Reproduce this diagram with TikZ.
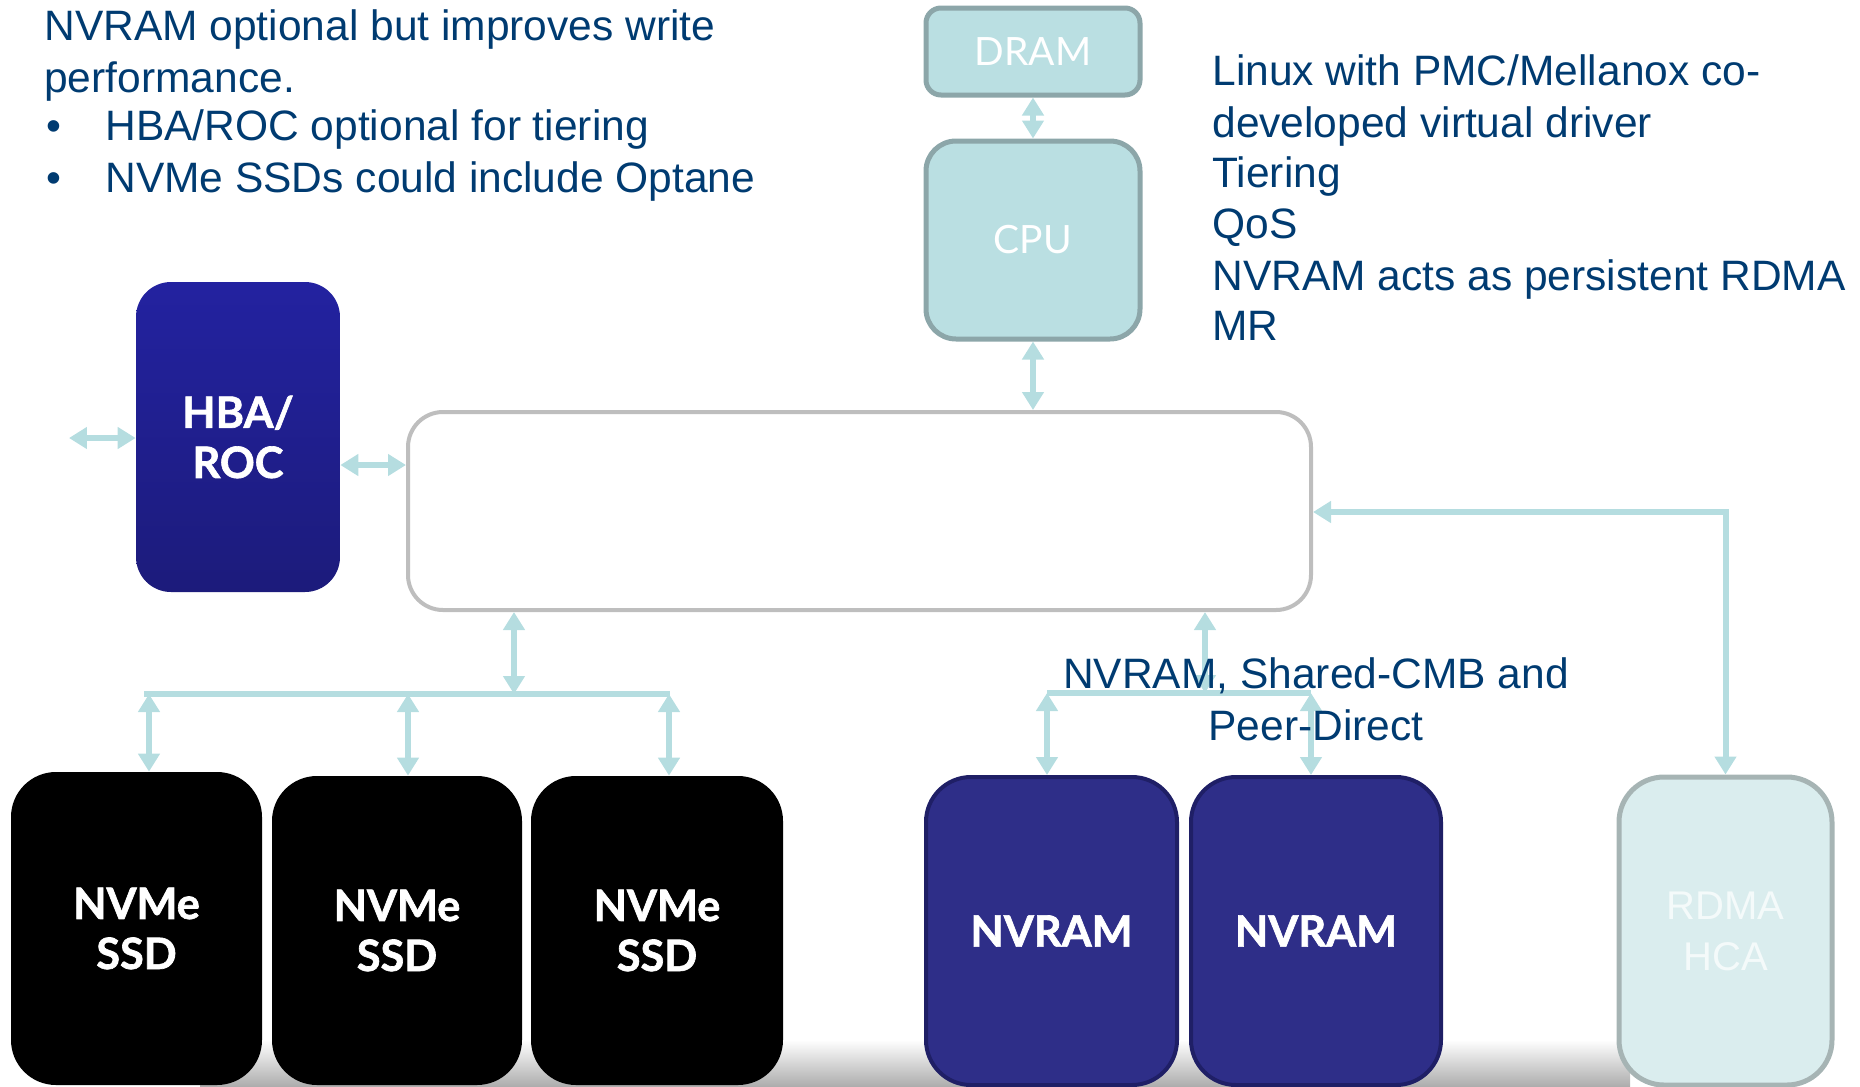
\documentclass[tikz,border=0pt]{standalone}
\usepackage{fontspec}
\setmainfont{Liberation Sans}
\newfontfamily\lato{Lato}
\newfontfamily\latoheavy{Lato}[BoldFeatures={FakeBold=1.5}]
\usetikzlibrary{arrows.meta,fit}
\definecolor{txtc}{HTML}{003B71}
\definecolor{arrowc}{HTML}{B5DDE0}
\definecolor{hbatop}{HTML}{2322A0}
\definecolor{hbabot}{HTML}{1C1B7B}
\definecolor{nvfill}{HTML}{2E2E88}
\definecolor{nvline}{HTML}{1F1F66}
\definecolor{cpufill}{HTML}{BADFE2}
\definecolor{cpuline}{HTML}{8CA6A9}
\definecolor{rdfill}{HTML}{DAEDEE}
\definecolor{rdline}{HTML}{A6B4B4}
\definecolor{rdtext}{HTML}{F4FAFA}
\definecolor{busline}{HTML}{BEBEBE}
\tikzset{
  box/.style={inner sep=0pt, rounded corners=0.9cm},
  ssdbox/.style={box, fill=black},
  nvbox/.style={box, fill=nvfill, draw=nvline, line width=0.08cm},
  rdbox/.style={box, fill=rdfill, draw=rdline, line width=0.1cm},
  cpubox/.style={box, fill=cpufill, draw=cpuline, line width=0.1cm, rounded corners=0.6cm},
  hbabox/.style={box, rounded corners=0.7cm, top color=hbatop, bottom color=hbabot},
  busbox/.style={box, fill=white, draw=busline, line width=0.08cm, rounded corners=0.7cm},
  boldlbl/.style={text=white, font=\latoheavy\bfseries\fontsize{24.6pt}{28.5pt}\selectfont, align=center, inner sep=0pt},
  thinlbl/.style={text=white, font=\lato\fontsize{22.2pt}{28.5pt}\selectfont, align=center, inner sep=0pt},
  rdlbl/.style={text=rdtext, font=\fontsize{22.8pt}{29pt}\selectfont, align=center, inner sep=0pt},
  txt/.style={text=txtc, font=\fontsize{24.2pt}{29pt}\selectfont, inner sep=0pt, anchor=base west},
  ctxt/.style={text=txtc, font=\fontsize{24.2pt}{29pt}\selectfont, inner sep=0pt, anchor=base},
  conn/.style={draw=arrowc, line width=0.12cm,
    {Triangle[length=0.36cm,width=0.42cm]}-{Triangle[length=0.36cm,width=0.42cm]}},
  barline/.style={draw=arrowc, line width=0.12cm}
}
\begin{document}
\begin{tikzpicture}[x=0.02cm,y=-0.02cm]
\useasboundingbox (0,0) rectangle (1860,1086);
% floor shading
\shade[top color=white, bottom color=black!32] (200,1040) rectangle (1630,1086);

% boxes
\node[cpubox, rounded corners=0.3cm, fit={(926,8) (1140,95)}] (dram) {};
\node[thinlbl] at (dram.center) {DRAM};
\node[cpubox, fit={(926,141) (1140,339)}] (cpu) {};
\node[thinlbl] at (cpu.center) {CPU};
\node[busbox, fit={(408,412) (1311,610)}] (bus) {};
\node[hbabox, fit={(136,282) (340,592)}] (hba) {};
\node[boldlbl] at (hba.center) {HBA/\\ROC};

\node[ssdbox, fit={(11,772) (262,1085)}] (ssd1) {};
\node[ssdbox, fit={(272,776) (522,1085)}] (ssd2) {};
\node[ssdbox, fit={(531,776) (783,1085)}] (ssd3) {};
\node[boldlbl] at (ssd1.center) {NVMe\\SSD};
\node[boldlbl] at (ssd2.center) {NVMe\\SSD};
\node[boldlbl] at (ssd3.center) {NVMe\\SSD};

\node[nvbox, fit={(926,777) (1177,1085)}] (nv1) {};
\node[nvbox, fit={(1191,777) (1441,1085)}] (nv2) {};
\node[boldlbl] at (nv1.center) {NVRAM};
\node[boldlbl] at (nv2.center) {NVRAM};

\node[rdbox, fit={(1619,777) (1832,1085)}] (rdma) {};
\node[rdlbl] at (rdma.center) {RDMA\\HCA};

% connectors
\draw[conn] (dram.south) -- (cpu.north);
\draw[conn] (cpu.south) -- (cpu.south |- bus.north);
\coordinate (hbafree) at (69,438);
\draw[conn] (hbafree) -- (hbafree -| hba.west);
\draw[conn] (340,465 -| hba.east) -- (340,465 -| bus.west);

% SSD tree
\coordinate (sbarL) at (144,694);
\coordinate (sbarR) at (670,694);
\coordinate (sbarM) at (514,694);
\draw[barline] (sbarL) -- (sbarR);
\draw[conn] (sbarM |- bus.south) -- (sbarM);
\draw[conn] (149,694) -- (149,694 |- ssd1.north);
\draw[conn] (408,694) -- (408,694 |- ssd2.north);
\draw[conn] (669,694) -- (669,694 |- ssd3.north);

% NVRAM tree
\coordinate (nbarL) at (1047,693);
\coordinate (nbarR) at (1311,693);
\coordinate (nbarM) at (1205,693);
\draw[barline] (nbarL) -- (nbarR);
\draw[conn] (nbarM |- bus.south) -- (nbarM);
\draw[conn] (nbarL) -- (nbarL |- nv1.north);
\draw[conn] (nbarR) -- (nbarR |- nv2.north);

% RDMA
\draw[conn] (1311,512 -| bus.east) -| (rdma.north);

% texts
\node[txt] (tl1) at (44,40) {NVRAM optional but improves write};
\node[txt] (tl2) at (44,92) {performance.};
\node[txt] (bu1) at (46,140) {•};
\node[txt] (tl3) at (105,140) {HBA/ROC optional for tiering};
\node[txt] (bu2) at (46,192) {•};
\node[txt] (tl4) at (105,192) {NVMe SSDs could include Optane};

\node[txt] (tr1) at (1212,85) {Linux with PMC/Mellanox co-};
\node[txt] (tr2) at (1212,137) {developed virtual driver};
\node[txt] (tr3) at (1212,187) {Tiering};
\node[txt] (tr4) at (1212,238) {QoS};
\node[txt] (tr5) at (1212,290) {NVRAM acts as persistent RDMA};
\node[txt] (tr6) at (1212,340) {MR};

\node[ctxt] (lb1) at (1316,688) {NVRAM, Shared-CMB and};
\node[ctxt] (lb2) at (1316,740) {Peer-Direct};
\end{tikzpicture}
\end{document}
